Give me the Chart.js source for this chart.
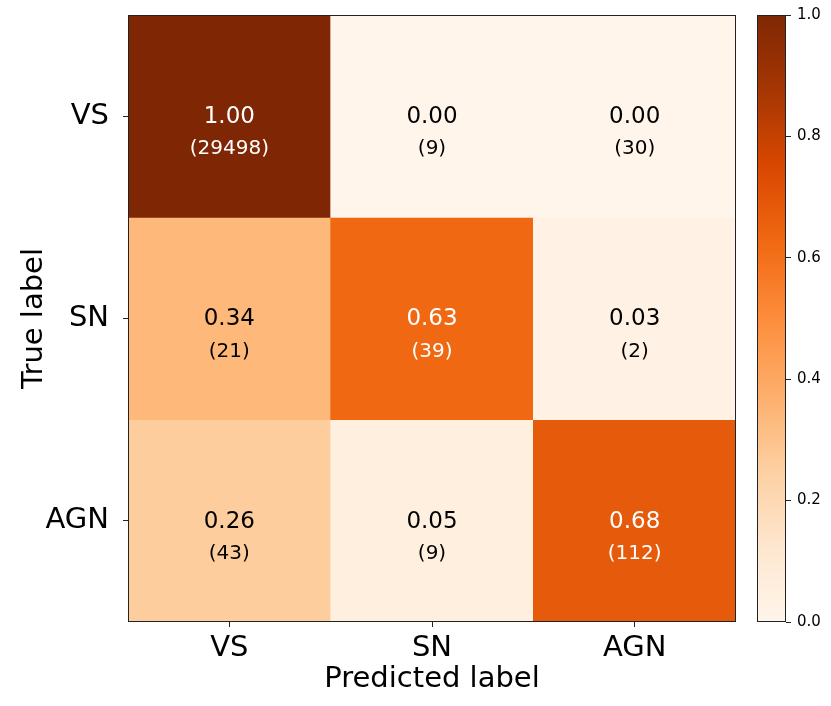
<!DOCTYPE html>
<html>
<head>
<meta charset="utf-8">
<script src="https://cdn.jsdelivr.net/npm/chart.js@4"></script>
<style>
  body { margin: 0; background: #fff; }
  #wrap { position: relative; width: 831px; height: 706px; }
  #wrap canvas { position: absolute; top: 0; }
</style>
</head>
<body>
<div id="wrap">
  <canvas id="matrix" width="831" height="706" style="left:0"></canvas>
  <canvas id="cbar" width="91" height="706" style="left:740px"></canvas>
</div>
<script>
// confusion matrix, rows = true label, cols = predicted label
let classes = ["VS", "SN", "AGN"]
let fracVS = [1.00, 0.00, 0.00]
let fracSN = [0.34, 0.63, 0.03]
let fracAGN = [0.26, 0.05, 0.68]
let countVS = [29498, 9, 30]
let countSN = [21, 39, 2]
let countAGN = [43, 9, 112]
let colorbarTicks = [0.0, 0.2, 0.4, 0.6, 0.8, 1.0]

let fracs = [fracVS, fracSN, fracAGN]
let counts = [countVS, countSN, countAGN]

// matplotlib "Oranges"
let oranges = ["#fff5eb", "#fee6ce", "#fdd0a2", "#fdae6b", "#fd8d3c",
               "#f16913", "#d94801", "#a63603", "#7f2704"]

function hexToRgb(h) {
    return [parseInt(h.slice(1, 3), 16), parseInt(h.slice(3, 5), 16), parseInt(h.slice(5, 7), 16)]
}

function orangeAt(v) {
    v = Math.max(0, Math.min(1, v))
    let pos = v * (oranges.length - 1)
    let i = Math.min(Math.floor(pos), oranges.length - 2)
    let t = pos - i
    let a = hexToRgb(oranges[i]), b = hexToRgb(oranges[i + 1])
    let c = a.map((x, k) => Math.round(x + (b[k] - x) * t))
    return "rgb(" + c.join(",") + ")"
}

let font = "'DejaVu Sans', sans-serif"
let edge = "#222"

let datasets = fracs.map((row, r) => ({
    label: classes[r],
    data: row.map(() => [r, r + 1]),
    backgroundColor: row.map(v => orangeAt(v)),
    borderWidth: 0,
    barPercentage: 1,
    categoryPercentage: 1,
}))

let frame = {
    id: "frame",
    afterDatasetsDraw(chart) {
        let a = chart.chartArea, ctx = chart.ctx
        ctx.save()
        ctx.strokeStyle = edge
        ctx.lineWidth = 1
        ctx.strokeRect(Math.round(a.left) + 0.5, Math.round(a.top) + 0.5,
                       Math.round(a.right - a.left) - 1, Math.round(a.bottom - a.top) - 1)
        ctx.restore()
    }
}

let cellText = {
    id: "cellText",
    afterDatasetsDraw(chart) {
        let ctx = chart.ctx
        let xs = chart.scales.x, ys = chart.scales.y
        ctx.save()
        ctx.textAlign = "center"
        ctx.textBaseline = "middle"
        fracs.forEach((row, r) => {
            row.forEach((v, c) => {
                let x = xs.getPixelForValue(c)
                let y = ys.getPixelForValue(r + 0.5)
                ctx.fillStyle = v > 0.5 ? "#ffffff" : "#000000"
                ctx.font = "23px " + font
                ctx.fillText(v.toFixed(2), x, y + 1)
                ctx.font = "20px " + font
                ctx.fillText("(" + counts[r][c] + ")", x, y + 33)
            })
        })
        ctx.restore()
    }
}

new Chart(document.getElementById("matrix"), {
    type: "bar",
    data: { labels: classes, datasets: datasets },
    options: {
        responsive: false,
        animation: false,
        grouped: false,
        layout: { padding: { top: 15, right: 95, left: 0, bottom: 0 } },
        plugins: { legend: { display: false }, tooltip: { enabled: false } },
        scales: {
            x: {
                type: "category",
                offset: true,
                grid: { offset: false, drawOnChartArea: false, tickLength: 5, color: edge },
                border: { display: false },
                ticks: { color: "#000", padding: 4, font: { family: font, size: 29 } },
                title: { display: true, text: "Predicted label", color: "#000",
                         font: { family: font, size: 29 }, padding: { top: 0, bottom: 9 } },
                afterFit(scale) {
                    scale.height = 84
                    scale.paddingLeft = 0
                    scale.paddingRight = 0
                },
            },
            y: {
                type: "linear",
                min: 0,
                max: 3,
                reverse: true,
                afterBuildTicks(scale) { scale.ticks = [{ value: 0.5 }, { value: 1.5 }, { value: 2.5 }] },
                grid: { drawOnChartArea: false, tickLength: 5, color: edge },
                border: { display: false },
                ticks: {
                    color: "#000", padding: 14, font: { family: font, size: 29 },
                    callback: v => classes[Math.floor(v)],
                },
                title: { display: true, text: "True label", color: "#000",
                         font: { family: font, size: 29 }, padding: { top: 17, bottom: 0 } },
                afterFit(scale) {
                    scale.width = 128
                    scale.paddingTop = 0
                    scale.paddingBottom = 0
                },
            },
        },
    },
    plugins: [frame, cellText],
})

// colorbar
new Chart(document.getElementById("cbar"), {
    type: "bar",
    data: {
        labels: [""],
        datasets: [{
            data: [[0, 1]],
            borderWidth: 0,
            barPercentage: 1,
            categoryPercentage: 1,
            backgroundColor(ctx) {
                let a = ctx.chart.chartArea
                if (!a) return oranges[4]
                let g = ctx.chart.ctx.createLinearGradient(0, a.bottom, 0, a.top)
                for (let i = 0; i <= 40; i++) g.addColorStop(i / 40, orangeAt(i / 40))
                return g
            },
        }],
    },
    options: {
        responsive: false,
        animation: false,
        layout: { padding: { top: 15, left: 17, right: 0, bottom: 84 } },
        plugins: { legend: { display: false }, tooltip: { enabled: false } },
        scales: {
            x: { display: false },
            y: {
                position: "right",
                min: 0,
                max: 1,
                afterBuildTicks(scale) { scale.ticks = colorbarTicks.map(v => ({ value: v })) },
                grid: { drawOnChartArea: false, tickLength: 5, color: edge },
                border: { display: false },
                ticks: { color: "#000", padding: 6, font: { family: font, size: 15 },
                         callback: v => v.toFixed(1) },
                afterFit(scale) {
                    scale.width = 45
                    scale.paddingTop = 0
                    scale.paddingBottom = 0
                },
            },
        },
    },
    plugins: [frame],
})
</script>
</body>
</html>
